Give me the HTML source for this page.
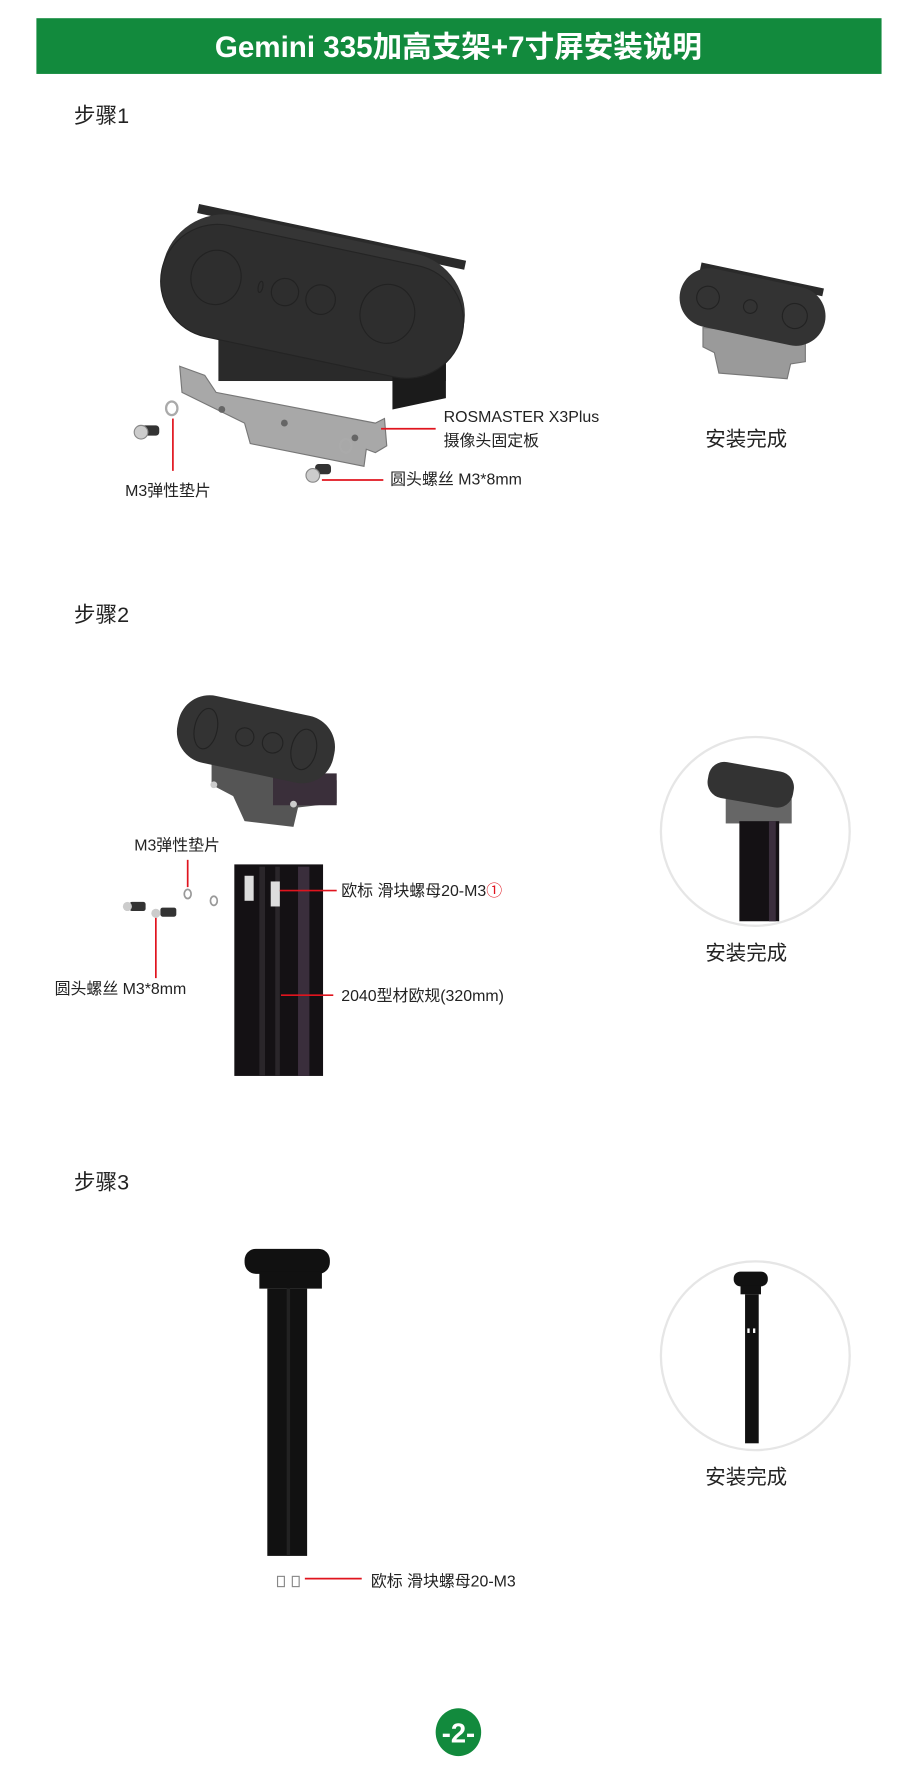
<!DOCTYPE html>
<html><head><meta charset="utf-8"><style>
html,body{margin:0;padding:0;background:#fff}
svg{display:block}
text{font-family:"Liberation Sans","Noto Sans CJK SC",sans-serif}
</style></head><body>
<svg width="910" height="1772" viewBox="0 0 800 1558" preserveAspectRatio="none" xmlns="http://www.w3.org/2000/svg">
<rect width="800" height="1558" fill="#fff"/>
<!-- header -->
<rect x="32" y="16" width="743" height="49" fill="#128a3d"/>
<text x="403" y="50" font-size="26" font-weight="bold" fill="#fff" text-anchor="middle">Gemini 335加高支架+7寸屏安装说明</text>

<text x="65" y="108" font-size="19" fill="#222">步骤1</text>
<text x="65" y="547" font-size="19" fill="#222">步骤2</text>
<text x="65" y="1046" font-size="19" fill="#222">步骤3</text>

<!-- STEP 1 main -->
<rect x="192" y="295" width="200" height="40" fill="#2a2a2a"/>
<polygon points="345,320 392,318 392,350 345,360" fill="#1b1b1b"/>
<g transform="rotate(12 275 262)">
<rect x="160" y="202" width="240" height="8" fill="#2a2a2a"/>
<rect x="140" y="205" width="270" height="110" rx="55" fill="#353535"/>
<rect x="140" y="215" width="270" height="100" rx="50" fill="#2e2e2e" stroke="#242424"/>
<ellipse cx="188" cy="262" rx="22" ry="24" fill="none" stroke="#222"/>
<circle cx="250" cy="262" r="12" fill="none" stroke="#222"/>
<circle cx="282" cy="262" r="13" fill="none" stroke="#222"/>
<ellipse cx="342" cy="262" rx="24" ry="26" fill="none" stroke="#222"/>
<ellipse cx="228" cy="262" rx="2" ry="5" fill="none" stroke="#222"/>
</g>
<path d="M158,322 L180,330 L190,345 L330,372 L338,368 L340,392 L330,398 L322,395 L320,410 L220,390 L215,372 L160,345 Z" fill="#a8a8a8" stroke="#777"/>
<circle cx="195" cy="360" r="3" fill="#666"/><circle cx="312" cy="385" r="3" fill="#666"/><circle cx="250" cy="372" r="3" fill="#666"/>
<rect x="120" y="374" width="20" height="9" rx="3" fill="#333"/><circle cx="124" cy="380" r="6" fill="#ccc" stroke="#888"/>
<ellipse cx="151" cy="359" rx="5" ry="6" fill="none" stroke="#aaa" stroke-width="2"/>
<ellipse cx="304" cy="392" rx="5" ry="6" fill="none" stroke="#aaa" stroke-width="2"/>
<rect x="277" y="408" width="14" height="9" rx="3" fill="#333"/><circle cx="275" cy="418" r="6" fill="#ccc" stroke="#888"/>
<line x1="152" y1="368" x2="152" y2="414" stroke="#e0141e" stroke-width="1.5"/>
<line x1="335" y1="377" x2="383" y2="377" stroke="#e0141e" stroke-width="1.5"/>
<line x1="283" y1="422" x2="337" y2="422" stroke="#e0141e" stroke-width="1.5"/>
<text x="390" y="371" font-size="14" fill="#222">ROSMASTER X3Plus</text>
<text x="390" y="392" font-size="14" fill="#222">摄像头固定板</text>
<text x="343" y="426" font-size="14" fill="#222">圆头螺丝 M3*8mm</text>
<text x="110" y="436" font-size="14" fill="#222">M3弹性垫片</text>
<!-- step1 small -->
<path d="M618,288 L708,295 L708,318 L695,320 L692,333 L632,328 L628,310 L618,305 Z" fill="#9a9a9a" stroke="#777"/>
<g transform="rotate(12 662 268)">
<rect x="610" y="241" width="110" height="7" fill="#2a2a2a"/>
<rect x="597" y="244" width="130" height="52" rx="26" fill="#333"/>
<circle cx="622" cy="270" r="10" fill="none" stroke="#222"/>
<circle cx="660" cy="270" r="6" fill="none" stroke="#222"/>
<circle cx="700" cy="270" r="11" fill="none" stroke="#222"/>
</g>
<text x="620" y="392" font-size="18" fill="#222">安装完成</text>

<!-- STEP 2 -->
<path d="M186,672 L296,686 L296,706 L262,710 L258,727 L215,722 L205,700 L186,690 Z" fill="#555"/>
<rect x="240" y="680" width="56" height="28" fill="#3a2f3a"/>
<g transform="rotate(12 225 650)">
<rect x="155" y="620" width="140" height="60" rx="28" fill="#333"/>
<ellipse cx="180" cy="650" rx="10" ry="18" fill="none" stroke="#222"/>
<circle cx="215" cy="650" r="8" fill="none" stroke="#222"/>
<circle cx="240" cy="650" r="9" fill="none" stroke="#222"/>
<ellipse cx="268" cy="650" rx="11" ry="18" fill="none" stroke="#222"/>
</g>
<circle cx="188" cy="690" r="3" fill="#ccc"/><circle cx="258" cy="707" r="3" fill="#ccc"/>
<text x="118" y="748" font-size="14" fill="#222">M3弹性垫片</text>
<line x1="165" y1="756" x2="165" y2="780" stroke="#e0141e" stroke-width="1.5"/>
<ellipse cx="165" cy="786" rx="3" ry="4" fill="none" stroke="#999" stroke-width="1.5"/>
<ellipse cx="188" cy="792" rx="3" ry="4" fill="none" stroke="#999" stroke-width="1.5"/>
<rect x="114" y="793" width="14" height="8" rx="2" fill="#333"/><circle cx="112" cy="797" r="4" fill="#ccc"/>
<rect x="141" y="798" width="14" height="8" rx="2" fill="#333"/><circle cx="137" cy="803" r="4" fill="#ccc"/>
<line x1="137" y1="807" x2="137" y2="860" stroke="#e0141e" stroke-width="1.5"/>
<text x="48" y="874" font-size="14" fill="#222">圆头螺丝 M3*8mm</text>
<rect x="206" y="760" width="78" height="186" fill="#141114"/>
<rect x="262" y="762" width="10" height="184" fill="#3a2e3c"/>
<rect x="228" y="762" width="5" height="184" fill="#2a262a"/>
<rect x="242" y="762" width="4" height="184" fill="#2a262a"/>
<rect x="215" y="770" width="8" height="22" fill="#ddd"/>
<rect x="238" y="775" width="8" height="22" fill="#ddd"/>
<line x1="246" y1="783" x2="296" y2="783" stroke="#e0141e" stroke-width="1.5"/>
<line x1="247" y1="875" x2="293" y2="875" stroke="#e0141e" stroke-width="1.5"/>
<text x="300" y="788" font-size="14" fill="#222">欧标 滑块螺母20-M3<tspan fill="#e0141e">①</tspan></text>
<text x="300" y="880" font-size="14" fill="#222">2040型材欧规(320mm)</text>
<circle cx="664" cy="731" r="83" fill="none" stroke="#e6e6e6" stroke-width="2"/>
<rect x="638" y="702" width="58" height="22" fill="#666"/>
<g transform="rotate(10 660 690)">
<rect x="622" y="674" width="76" height="32" rx="14" fill="#333"/>
</g>
<rect x="650" y="722" width="35" height="88" fill="#141114"/>
<rect x="676" y="722" width="6" height="88" fill="#3a2e3c"/>
<text x="620" y="844" font-size="18" fill="#222">安装完成</text>

<!-- STEP 3 -->
<rect x="215" y="1098" width="75" height="22" rx="10" fill="#111"/>
<rect x="228" y="1118" width="55" height="15" fill="#111"/>
<rect x="235" y="1133" width="35" height="235" fill="#111"/>
<rect x="252" y="1133" width="3" height="235" fill="#222"/>
<rect x="244" y="1386" width="6" height="9" fill="none" stroke="#888"/>
<rect x="257" y="1386" width="6" height="9" fill="none" stroke="#888"/>
<line x1="268" y1="1388" x2="318" y2="1388" stroke="#e0141e" stroke-width="1.5"/>
<text x="326" y="1395" font-size="14" fill="#222">欧标 滑块螺母20-M3</text>
<circle cx="664" cy="1192" r="83" fill="none" stroke="#e6e6e6" stroke-width="2"/>
<rect x="645" y="1118" width="30" height="13" rx="6" fill="#111"/>
<rect x="651" y="1130" width="18" height="8" fill="#111"/>
<rect x="655" y="1138" width="12" height="131" fill="#111"/>
<rect x="657" y="1168" width="2" height="4" fill="#fff"/><rect x="662" y="1168" width="2" height="4" fill="#fff"/>
<text x="620" y="1305" font-size="18" fill="#222">安装完成</text>

<!-- page number -->
<ellipse cx="403" cy="1523" rx="20" ry="21" fill="#128a3d"/>
<text x="403" y="1532" font-size="24" font-weight="bold" fill="#fff" text-anchor="middle">-2-</text>
</svg>
</body></html>
